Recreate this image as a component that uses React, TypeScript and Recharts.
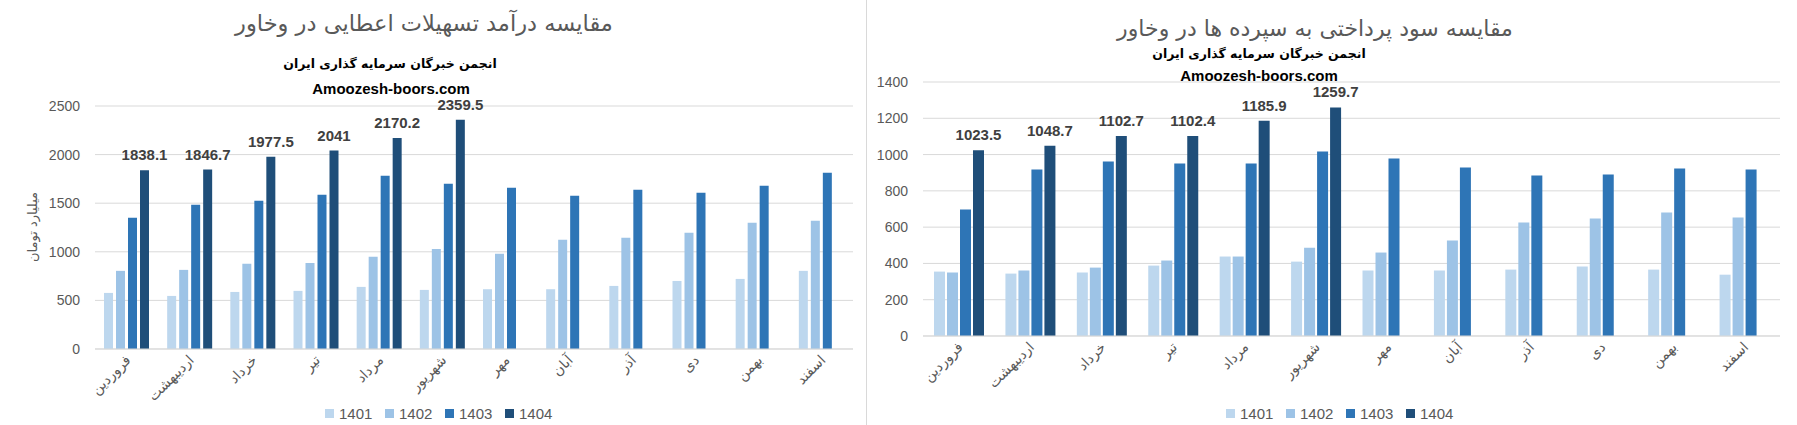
import React from 'react';
import { BarChart, Bar, XAxis, YAxis, CartesianGrid, LabelList } from 'recharts';

// months of the Persian year
const months = ['فروردین', 'اردیبهشت', 'خرداد', 'تیر', 'مرداد', 'شهریور', 'مهر', 'آبان', 'آذر', 'دی', 'بهمن', 'اسفند'];
const years = ['1401', '1402', '1403', '1404'];
const yearColors = ['#BDD7EE', '#9DC3E6', '#2E75B6', '#1F4E79'];

// loan income (billion toman)
const loan1401 = [577, 546, 587, 598, 639, 608, 615, 615, 649, 700, 721, 804];
const loan1402 = [804, 814, 876, 886, 948, 1030, 979, 1123, 1144, 1195, 1298, 1319];
const loan1403 = [1350, 1484, 1525, 1587, 1782, 1700, 1659, 1576, 1638, 1607, 1679, 1813];
const loan1404 = [1838.1, 1846.7, 1977.5, 2041, 2170.2, 2359.5, null, null, null, null, null, null];
const loanTicks = [0, 500, 1000, 1500, 2000, 2500];

// interest paid on deposits
const dep1401 = [355, 344, 350, 388, 438, 410, 361, 361, 366, 383, 366, 338];
const dep1402 = [350, 361, 377, 416, 438, 487, 460, 526, 625, 648, 681, 653];
const dep1403 = [697, 918, 962, 951, 951, 1017, 979, 929, 885, 890, 923, 918];
const dep1404 = [1023.5, 1048.7, 1102.7, 1102.4, 1185.9, 1259.7, null, null, null, null, null, null];
const depTicks = [0, 200, 400, 600, 800, 1000, 1200, 1400];

const loanTitle = 'مقایسه درآمد تسهیلات اعطایی در وخاور';
const depTitle = 'مقایسه سود پرداختی به سپرده ها در وخاور';
const subTitle = 'انجمن خبرگان سرمایه گذاری ایران';
const siteName = 'Amoozesh-boors.com';
const yLabel = 'میلیارد تومان';

const toRows = (a: (number | null)[], b: (number | null)[], c: (number | null)[], d: (number | null)[]) =>
  months.map((m, i) => ({ month: m, y1401: a[i], y1402: b[i], y1403: c[i], y1404: d[i] }));

const loanData = toRows(loan1401, loan1402, loan1403, loan1404);
const depData = toRows(dep1401, dep1402, dep1403, dep1404);

const gray = '#595959';
const latin = '"Liberation Sans", Arial, sans-serif';
const arabic = '"DejaVu Sans", sans-serif';

const MonthTick = (props: any) => {
  const { x, y, payload } = props;
  const tx = x + 5;
  const ty = y + 12;
  return (
    <text
      x={tx}
      y={ty}
      transform={`rotate(-45 ${tx} ${ty})`}
      textAnchor="end"
      fill={gray}
      fontSize={14}
      fontFamily={arabic}
    >
      {payload.value}
    </text>
  );
};

const LegendRow = ({ left, top }: { left: number; top: number }) => (
  <div style={{ position: 'absolute', left, top, display: 'flex', fontFamily: latin, fontSize: 15, color: gray }}>
    {years.map((yr, i) => (
      <div key={yr} style={{ display: 'flex', alignItems: 'center', width: 60 }}>
        <span style={{ width: 9, height: 9, background: yearColors[i], marginRight: 5 }} />
        <span>{yr}</span>
      </div>
    ))}
  </div>
);

type PanelProps = {
  data: any[];
  ticks: number[];
  max: number;
  width: number;
  yWidth: number;
  margin: { top: number; right: number; bottom: number; left: number };
  barSize: number;
  barGap: number;
};

// x axis keeps its default 30px height, so bottom margin = space below plot - 30
const Panel = ({ data, ticks, max, width, yWidth, margin, barSize, barGap }: PanelProps) => (
  <BarChart width={width} height={425} data={data} margin={margin} barSize={barSize} barGap={barGap}>
    <CartesianGrid vertical={false} stroke="#D9D9D9" />
    <XAxis
      dataKey="month"
      interval={0}
      height={30}
      tickLine={false}
      tickSize={0}
      tickMargin={0}
      stroke="#D9D9D9"
      tick={<MonthTick />}
    />
    <YAxis
      width={yWidth}
      domain={[0, max]}
      ticks={ticks}
      axisLine={false}
      tickLine={false}
      tickSize={0}
      tickMargin={15}
      tick={{ fill: gray, fontSize: 14, fontFamily: latin }}
    />
    {years.map((yr, i) => (
      <Bar key={yr} dataKey={'y' + yr} fill={yearColors[i]} isAnimationActive={false}>
        {yr === '1404' && (
          <LabelList
            dataKey="y1404"
            position="top"
            offset={10}
            fill="#404040"
            fontSize={15}
            fontWeight="bold"
            fontFamily={latin}
          />
        )}
      </Bar>
    ))}
  </BarChart>
);

const centered = (cx: number, cy: number): React.CSSProperties => ({
  position: 'absolute',
  left: cx - 300,
  top: cy,
  width: 600,
  textAlign: 'center',
  transform: 'translateY(-50%)',
  whiteSpace: 'nowrap',
});

export default function App() {
  return (
    <div style={{ position: 'absolute', left: 0, top: 0, width: 1797, height: 425, background: '#fff', overflow: 'hidden' }}>
      {/* left panel: loan income */}
      <div style={{ position: 'absolute', left: 0, top: 0 }}>
        <Panel
          data={loanData}
          ticks={loanTicks}
          max={2500}
          width={866}
          yWidth={95}
          margin={{ top: 106, right: 13, bottom: 46, left: 0 }}
          barSize={9}
          barGap={3}
        />
      </div>
      <div style={{ ...centered(424, 23), fontFamily: arabic, fontSize: 22.5, color: gray, direction: 'rtl' }}>{loanTitle}</div>
      <div style={{ ...centered(390, 63), fontFamily: arabic, fontSize: 12.5, fontWeight: 'bold', color: '#000', direction: 'rtl' }}>{subTitle}</div>
      <div style={{ ...centered(391, 88), fontFamily: latin, fontSize: 15, fontWeight: 'bold', color: '#000' }}>{siteName}</div>
      <div
        style={{
          position: 'absolute',
          left: 32,
          top: 227,
          transform: 'translate(-50%, -50%) rotate(-90deg)',
          fontFamily: arabic,
          fontSize: 13,
          color: gray,
          whiteSpace: 'nowrap',
          direction: 'rtl',
        }}
      >
        {yLabel}
      </div>
      <LegendRow left={325} top={405} />

      {/* divider */}
      <div style={{ position: 'absolute', left: 866, top: 0, width: 1, height: 425, background: '#D9D9D9' }} />

      {/* right panel: interest on deposits */}
      <div style={{ position: 'absolute', left: 866, top: 0 }}>
        <Panel
          data={depData}
          ticks={depTicks}
          max={1400}
          width={931}
          yWidth={57}
          margin={{ top: 82, right: 17, bottom: 59, left: 0 }}
          barSize={11}
          barGap={2}
        />
      </div>
      <div style={{ ...centered(1315, 28), fontFamily: arabic, fontSize: 22, color: gray, direction: 'rtl' }}>{depTitle}</div>
      <div style={{ ...centered(1259, 53), fontFamily: arabic, fontSize: 12.5, fontWeight: 'bold', color: '#000', direction: 'rtl' }}>{subTitle}</div>
      <div style={{ ...centered(1259, 75), fontFamily: latin, fontSize: 15, fontWeight: 'bold', color: '#000' }}>{siteName}</div>
      <LegendRow left={1226} top={405} />
    </div>
  );
}
